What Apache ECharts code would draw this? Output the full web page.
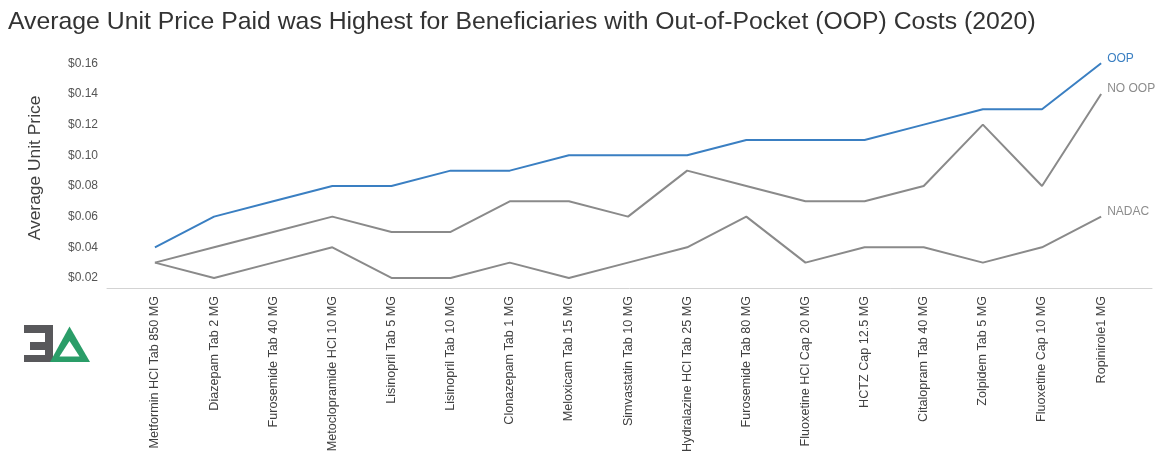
<!DOCTYPE html>
<html>
<head>
<meta charset="utf-8">
<script src="https://cdn.jsdelivr.net/npm/echarts@6/dist/echarts.min.js"></script>
<style>
  html, body { margin: 0; padding: 0; background: #ffffff; }
  #chart { width: 1160px; height: 455px; }
</style>
</head>
<body>
<div id="chart"></div>
<script>
// Drug products (x axis)
const drugs = [
  'Metformin HCl Tab 850 MG',
  'Diazepam Tab 2 MG',
  'Furosemide Tab 40 MG',
  'Metoclopramide HCl 10 MG',
  'Lisinopril Tab 5 MG',
  'Lisinopril Tab 10 MG',
  'Clonazepam Tab 1 MG',
  'Meloxicam Tab 15 MG',
  'Simvastatin Tab 10 MG',
  'Hydralazine HCl Tab 25 MG',
  'Furosemide Tab 80 MG',
  'Fluoxetine HCl Cap 20 MG',
  'HCTZ Cap 12.5 MG',
  'Citalopram Tab 40 MG',
  'Zolpidem Tab 5 MG',
  'Fluoxetine Cap 10 MG',
  'Ropinirole1 MG'
];

// Average unit price paid, dollars
const oop   = [0.04, 0.06, 0.07, 0.08, 0.08, 0.09, 0.09, 0.10, 0.10, 0.10, 0.11, 0.11, 0.11, 0.12, 0.13, 0.13, 0.16];
const noOop = [0.03, 0.04, 0.05, 0.06, 0.05, 0.05, 0.07, 0.07, 0.06, 0.09, 0.08, 0.07, 0.07, 0.08, 0.12, 0.08, 0.14];
const nadac = [0.03, 0.02, 0.03, 0.04, 0.02, 0.02, 0.03, 0.02, 0.03, 0.04, 0.06, 0.03, 0.04, 0.04, 0.03, 0.04, 0.06];

// Price axis tick labels
const priceTicks = [0.02, 0.04, 0.06, 0.08, 0.10, 0.12, 0.14, 0.16];

const FONT = "'Liberation Sans', Arial, Helvetica, sans-serif";
const BLUE = '#3a7fc2';
const GREY = '#8a8a8a';

const toPoints = vals => vals.map((v, i) => [i, v]);
const drugIndex = drugs.map((_, i) => i);

function lineSeries(name, vals, color, labelColor) {
  return {
    name: name,
    type: 'line',
    data: toPoints(vals),
    symbol: 'none',
    lineStyle: { color: color, width: 2 },
    itemStyle: { color: color },
    endLabel: {
      show: true,
      formatter: name,
      color: labelColor,
      fontFamily: FONT,
      fontSize: 12,
      distance: 6,
      offset: [0, -5]
    },
    emphasis: { disabled: true },
    silent: true,
    animation: false
  };
}

const chart = echarts.init(document.getElementById('chart'), null, { renderer: 'canvas' });

chart.setOption({
  backgroundColor: '#ffffff',
  animation: false,
  textStyle: { fontFamily: FONT },
  title: {
    text: 'Average Unit Price Paid was Highest for Beneficiaries with Out-of-Pocket (OOP) Costs (2020)',
    left: 3,
    top: 5,
    textStyle: { fontFamily: FONT, fontSize: 24.8, fontWeight: 'normal', color: '#333333' }
  },
  grid: { left: 107, right: 8, top: 48, bottom: 165, containLabel: false },
  xAxis: {
    type: 'value',
    min: -0.81,
    max: 16.86,
    splitLine: { show: false },
    axisLine: { show: true, lineStyle: { color: '#d3d3d3', width: 1 } },
    axisTick: { show: false },
    axisLabel: {
      customValues: drugIndex,
      formatter: v => drugs[Math.round(v)] || '',
      rotate: 90,
      margin: 8,
      fontFamily: FONT,
      fontSize: 12.6,
      color: '#404040'
    }
  },
  yAxis: {
    type: 'value',
    min: 0.0135,
    max: 0.17,
    name: 'Average Unit Price',
    nameLocation: 'middle',
    nameGap: 63,
    nameTextStyle: { fontFamily: FONT, fontSize: 17.4, color: '#404040' },
    splitLine: { show: false },
    axisLine: { show: false },
    axisTick: { show: false },
    axisLabel: {
      customValues: priceTicks,
      formatter: v => '$' + v.toFixed(2),
      margin: 9,
      fontFamily: FONT,
      fontSize: 12,
      color: '#555555'
    }
  },
  series: [
    lineSeries('OOP', oop, BLUE, BLUE),
    lineSeries('NO OOP', noOop, GREY, '#8c8c8c'),
    lineSeries('NADAC', nadac, GREY, '#8c8c8c')
  ],
  graphic: [
    // logo: grey reversed E
    {
      type: 'polygon',
      silent: true,
      shape: {
        points: [
          [24, 325], [53, 325], [53, 362], [24, 362], [24, 355], [45, 355],
          [45, 350], [30, 350], [30, 342], [45, 342], [45, 333], [24, 333]
        ]
      },
      style: { fill: '#58585b' }
    },
    // logo: green delta outline
    {
      type: 'polygon',
      silent: true,
      shape: { points: [[69.5, 326.5], [90, 362], [50, 362]] },
      style: { fill: '#2a9d68' }
    },
    {
      type: 'polygon',
      silent: true,
      shape: { points: [[69.5, 341], [79.5, 356.5], [59.5, 356.5]] },
      style: { fill: '#ffffff' }
    }
  ]
});
</script>
</body>
</html>
